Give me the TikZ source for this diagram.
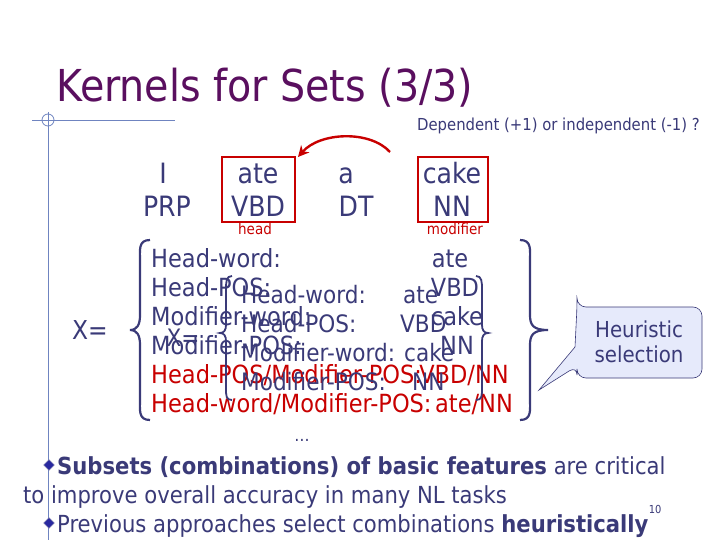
\documentclass[tikz,border=0pt]{standalone}
\usepackage{fontspec}
\setmainfont{DejaVu Sans Condensed}
\usetikzlibrary{arrows.meta,shapes.geometric,decorations.pathreplacing}
\definecolor{ttl}{HTML}{5A0F5F}
\definecolor{ink}{HTML}{3A3A78}
\definecolor{rd}{HTML}{C80000}
\definecolor{lb}{HTML}{6F84C0}
\definecolor{cfill}{HTML}{E6EAFB}
\newcommand{\fs}[1]{\fontsize{#1}{#1}\selectfont}
\begin{document}
\begin{tikzpicture}[x=1pt,y=-1pt,
  word/.style={text=ink,font=\fs{28},inner sep=0pt,anchor=base},
  row/.style={text=ink,font=\fs{25},inner sep=0pt,anchor=base west},
  irow/.style={text=ink,font=\fs{24},inner sep=0pt,anchor=base west},
  val/.style={text=ink,font=\fs{25},inner sep=0pt,anchor=base},
  redbox/.style={draw=rd,line width=2.2pt},
  brace/.style={draw=ink,line width=2.2pt},
  bul/.style={diamond,draw=ink!60,fill=ink!70!blue,inner sep=0pt,minimum size=11pt}]
\useasboundingbox (0,0) rectangle (720,540);
\fill[white] (0,0) rectangle (720,540);
% decoration
\draw[lb,line width=0.8pt] (32,120) -- (175,120) (48,112) -- (48,540);
\draw[lb,line width=0.8pt] (48,120) circle (6);
\node[text=ttl,font=\fs{44},anchor=base west,inner sep=0pt] (title) at (56,102) {Kernels for Sets (3/3)};
\node[text=ink,font=\fs{16.5},anchor=base east,inner sep=0pt] (q) at (700,131) {Dependent (+1) or independent (-1) ?};
% words
\node[word] (w1) at (163,184) {I};
\node[word] (p1) at (167,217) {PRP};
\node[word] (w2) at (258,184) {ate};
\node[word] (p2) at (258,217) {VBD};
\node[word] (w3) at (346,184) {a};
\node[word] (p3) at (356,217) {DT};
\node[word] (w4) at (452,184) {cake};
\node[word] (p4) at (452,217) {NN};
\draw[redbox] (222,157) rectangle (295,222);
\draw[redbox] (418,157) rectangle (488,222);
\coordinate (hb) at (298,157);
\coordinate (mb) at (390,152);
\node[text=rd,font=\fs{15},inner sep=0pt,anchor=base] (hd) at (255,235) {head};
\node[text=rd,font=\fs{15},inner sep=0pt,anchor=base] (md) at (455,235) {modifier};
\draw[rd,line width=2.4pt,-{Stealth[length=11pt,width=11pt]}] (mb) .. controls (370,130) and (320,132) .. (hb);
% outer set
\node[text=ink,font=\fs{26},inner sep=0pt,anchor=base] (X) at (90,339) {X=};
\draw[brace] (150,240) .. controls (138,240) and (140,250) .. (140,262) -- (140,315) .. controls (140,325) and (137,330) .. (130,330)
  .. controls (137,330) and (140,335) .. (140,345) -- (140,398) .. controls (140,410) and (138,420) .. (150,420);
\draw[brace] (520,240) .. controls (532,240) and (530,250) .. (530,262) -- (530,315) .. controls (530,325) and (533,330) .. (548,330)
  .. controls (533,330) and (530,335) .. (530,345) -- (530,398) .. controls (530,410) and (532,420) .. (520,420);
\node[row] (r1) at (151,267) {Head-word:};
\node[row] (r2) at (151,296) {Head-POS:};
\node[row] (r3) at (151,325) {Modifier-word:};
\node[row] (r4) at (151,354) {Modifier-POS:};
\node[row,text=rd] (r5) at (151,383) {Head-POS/Modifier-POS:};
\node[row,text=rd] (r6) at (151,412) {Head-word/Modifier-POS:};
\node[val] (v1) at (450,267) {ate};
\node[val] (v2) at (455,296) {VBD};
\node[val] (v3) at (457,325) {cake};
\node[val] (v4) at (457,354) {NN};
\node[val,text=rd] (v5) at (464,383) {VBD/NN};
\node[val,text=rd] (v6) at (474,412) {ate/NN};
\node[text=ink,font=\fs{17},inner sep=0pt,anchor=base] (dots) at (302,441) {\dots};
% inner set
\node[text=ink,font=\fs{24},inner sep=0pt,anchor=base] (X2) at (183,346) {X=};
\draw[brace,line width=1.8pt] (232,276) .. controls (226,276) and (226,282) .. (226,290) -- (226,325) .. controls (226,330) and (224,333) .. (220,333)
  .. controls (224,333) and (226,336) .. (226,341) -- (226,388) .. controls (226,396) and (226,400) .. (232,400);
\draw[brace,line width=1.8pt] (476,276) .. controls (482,276) and (482,282) .. (482,290) -- (482,325) .. controls (482,330) and (484,333) .. (488,333)
  .. controls (484,333) and (482,336) .. (482,341) -- (482,388) .. controls (482,396) and (482,400) .. (476,400);
\node[irow] (i1) at (241,303) {Head-word:};
\node[irow] (i2) at (241,332) {Head-POS:};
\node[irow] (i3) at (241,361) {Modifier-word:};
\node[irow] (i4) at (241,390) {Modifier-POS:};
\node[irow] (j1) at (403,303) {ate};
\node[irow] (j2) at (400,332) {VBD};
\node[irow] (j3) at (404,361) {cake};
\node[irow] (j4) at (412,390) {NN};
% callout
\coordinate (tip) at (539,390);
\draw[ink,fill=cfill,line width=0.6pt,rounded corners=9pt] (577,307) -- (702,307) -- (702,378) -- (577,378) -- (577,366)[sharp corners] -- (tip) -- (575,347)[rounded corners=9pt] -- (577,307) -- cycle;
\node[text=ink,font=\fs{22},align=center,inner sep=0pt] (heur) at (639,342) {Heuristic\\[3pt]selection};
% bullets
\node[bul] (b1) at (49,465) {};
\node[row,font=\fs{23.5}] (t1) at (57,474) {\textbf{Subsets (combinations) of basic features} are critical};
\node[row,font=\fs{23.5}] (t2) at (23,503) {to improve overall accuracy in many NL tasks};
\node[bul] (b2) at (49,523) {};
\node[row,font=\fs{23.5}] (t3) at (57,532) {Previous approaches select combinations \textbf{heuristically}};
\node[text=ink,font=\fs{11},inner sep=0pt,anchor=base west] (pg) at (t3.north east) {10};
\end{tikzpicture}
\end{document}
